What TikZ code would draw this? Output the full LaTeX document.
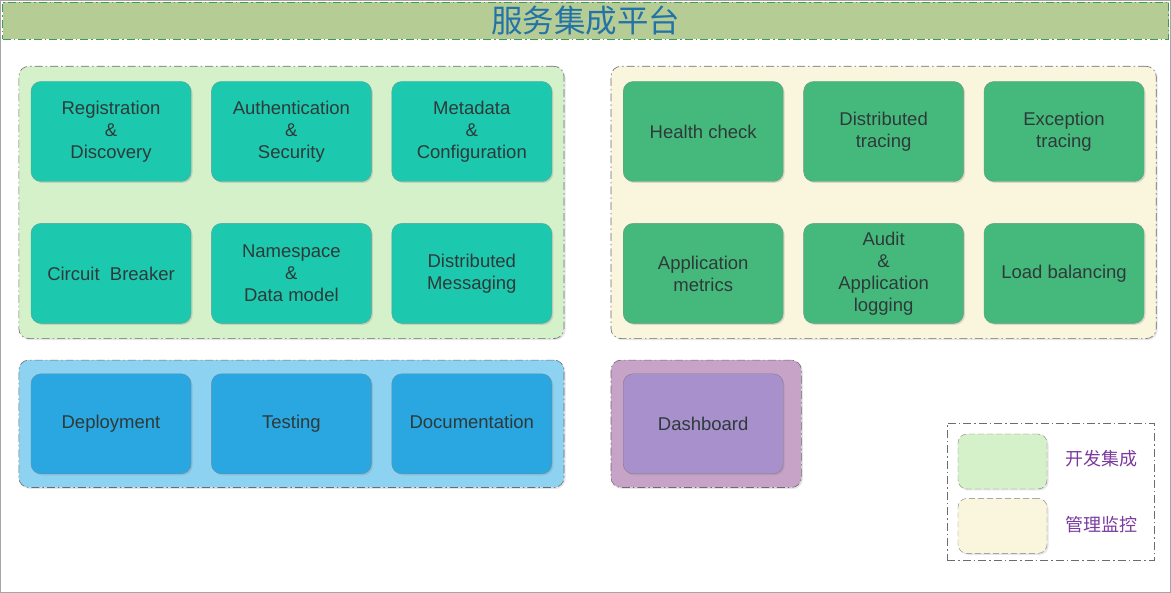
\documentclass[tikz,border=0pt]{standalone}
\usepackage{fontspec}
\setmainfont{Liberation Sans}
\newfontfamily\cjk{Noto Sans CJK SC}
\usetikzlibrary{positioning,fit,backgrounds,shadows}
\definecolor{titleBar}{HTML}{B5CC95}
\definecolor{titleLine}{HTML}{3E9A5C}
\definecolor{titleInk}{HTML}{2473A8}
\definecolor{devGroup}{HTML}{D5F1CA}
\definecolor{devBlock}{HTML}{1CC9AE}
\definecolor{opsGroup}{HTML}{FAF5DD}
\definecolor{opsBlock}{HTML}{45B97C}
\definecolor{toolGroup}{HTML}{8DD2F0}
\definecolor{toolBlock}{HTML}{2AA6E0}
\definecolor{dashGroup}{HTML}{C8A3C8}
\definecolor{dashBlock}{HTML}{A890CC}
\definecolor{legendInk}{HTML}{7A3A9E}
\definecolor{blockInk}{HTML}{2E3A3A}

\begin{document}
\begin{tikzpicture}[x=1pt, y=-1pt, node distance=41.5pt and 20pt,
          block/.style={draw, rounded corners=10pt, minimum width=160pt, minimum height=100pt,
            font=\fontsize{18.5}{22}\selectfont, align=center, text=blockInk,
            drop shadow={opacity=0.25, shadow xshift=1.5pt, shadow yshift=-1.5pt}},
          dev/.style={block, fill=devBlock, draw=devBlock!60!black!70},
          ops/.style={block, fill=opsBlock, draw=opsBlock!60!black!70},
          tool/.style={block, fill=toolBlock, draw=toolBlock!60!black!70},
          boardblk/.style={block, fill=dashBlock, draw=gray},
          group/.style={draw=gray!85!black, line width=0.6pt, dash pattern=on 8pt off 3pt on 1.5pt off 3pt, rounded corners=10pt,
            inner xsep=12pt, inner ysep=15pt,
            drop shadow={opacity=0.2, shadow xshift=1.5pt, shadow yshift=-1.5pt}},
          keybox/.style={draw=gray, dash pattern=on 6pt off 3pt, rounded corners=9pt, minimum width=89pt, minimum height=55pt,
            drop shadow={opacity=0.2, shadow xshift=1.5pt, shadow yshift=-1.5pt}},
          keytext/.style={font=\cjk\fontsize{18}{18}\selectfont, text=legendInk}]
        \useasboundingbox (0,0) rectangle (1171,593);
        \draw[gray!70] (0.5,0.5) rectangle (1170.5,592.5);
        % title
        \node[fill=titleBar, draw=titleLine, dash pattern=on 8pt off 3pt on 1.5pt off 3pt,
          minimum width=1166pt, minimum height=37pt, inner sep=0pt] (title) at (585.5,20.5)
          {\cjk\fontsize{31.5}{31.5}\selectfont\color{titleInk}服务集成平台};
        % development blocks
        \node[dev] (reg) at (111,131.5) {Registration\\ \&\\ Discovery};
        \node[dev, right=of reg] (auth) {Authentication\\ \&\\ Security};
        \node[dev, right=of auth] (meta) {Metadata\\ \&\\ Configuration};
        \node[dev, below=of reg] (cb) {Circuit\ \ Breaker};
        \node[dev, below=of auth] (ns) {Namespace\\ \&\\ Data model};
        \node[dev, below=of meta] (msg) {Distributed\\ Messaging};
        % tooling blocks
        \node[tool, below=50pt of cb] (deploy) {Deployment};
        \node[tool, below=50pt of ns] (test) {Testing};
        \node[tool, below=50pt of msg] (doc) {\strut Documentation};
        % operations blocks
        \node[ops, right=71pt of meta] (health) {Health check};
        \node[ops, right=of health] (trace) {Distributed\\ tracing};
        \node[ops, right=of trace] (exc) {Exception\\ tracing};
        \node[ops, below=of health] (metrics) {Application\\ metrics};
        \node[ops, below=of trace] (audit) {Audit\\ \&\\ Application\\ logging};
        \node[ops, below=of exc] (lb) {Load balancing};
        \node[boardblk, below=50pt of metrics] (board) {Dashboard};
        \coordinate[right=6pt of board.east] (boardEdge);
        % legend
        \node[keybox, fill=devGroup] (keyDev) at (1002.5,461.5) {};
        \node[keybox, fill=opsGroup, below=9pt of keyDev] (keyOps) {};
        \node[keytext] (keyDevText) at (1101,459) {开发集成};
        \node[keytext] (keyOpsText) at (1101,525) {管理监控};
        \begin{scope}[on background layer]
          \node[group, fill=devGroup, fit=(reg)(msg)] (devArea) {};
          \node[group, fill=toolGroup, inner ysep=13.5pt, fit=(deploy)(doc)] (toolArea) {};
          \node[group, fill=opsGroup, fit=(health)(lb)] (opsArea) {};
          \node[group, fill=dashGroup, inner ysep=13.5pt, fit=(board)(boardEdge)] (dashArea) {};
          \node[draw=gray!85!black, line width=0.6pt, dash pattern=on 8pt off 3pt on 1.5pt off 3pt, inner sep=0pt,
            fit={(947,423) (1154,560)}] (legend) {};
        \end{scope}
      \end{tikzpicture}
\end{document}
